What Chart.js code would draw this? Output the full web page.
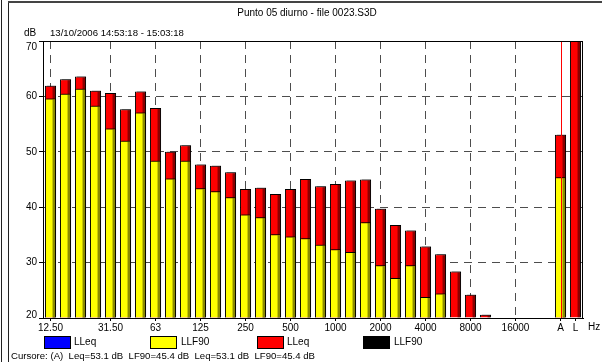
<!DOCTYPE html>
<html>
<head>
<meta charset="utf-8">
<script src="https://cdn.jsdelivr.net/npm/chart.js@4.4.1/dist/chart.umd.min.js"></script>
<style>
  html, body { margin: 0; padding: 0; background: #fff; }
  #wrap { position: relative; width: 602px; height: 362px; overflow: hidden;
          font-family: "Liberation Sans", Arial, sans-serif; font-size: 10px; color: #000; }
  #wrap canvas { position: absolute; left: 0; top: 0; }
  .t { position: absolute; white-space: nowrap; line-height: 12px; }
  .n { font-size: 9.6px; }
  .box { position: absolute; width: 27px; height: 13px; box-sizing: border-box; border: 1px solid #000; }
  .ln { position: absolute; background: #222; }
</style>
</head>
<body>
<div id="wrap">
  <canvas id="c" width="602" height="362"></canvas>

  <div class="ln" style="left:1px; top:0; width:1px; height:362px;"></div>
  <div class="ln" style="left:8px; top:1px; width:1px; height:361px;"></div>
  <div class="ln" style="left:8px; top:1px; width:594px; height:2px; background:#444;"></div>

  <div class="t" style="left:8px; width:598px; text-align:center; top:7px;">Punto 05 diurno - file 0023.S3D</div>
  <div class="t" style="left:24px; top:27px;">dB</div>
  <div class="t n" style="left:50px; top:27px;">13/10/2006 14:53:18 - 15:03:18</div>
  <div class="t" style="left:588px; top:321px;">Hz</div>

  <div class="box" style="left:44px; top:336px; background:#0000ff;"></div>
  <div class="t" style="left:74px; top:336px;">LLeq</div>
  <div class="box" style="left:150px; top:336px; background:#ffff00;"></div>
  <div class="t" style="left:181px; top:336px;">LLF90</div>
  <div class="box" style="left:257px; top:336px; background:#ff0000;"></div>
  <div class="t" style="left:287px; top:336px;">LLeq</div>
  <div class="box" style="left:363px; top:336px; background:#000000;"></div>
  <div class="t" style="left:394px; top:336px;">LLF90</div>

  <div class="t n" style="left:11px; top:350px;">Cursore: (A)&nbsp; Leq=53.1 dB&nbsp; LF90=45.4 dB&nbsp; Leq=53.1 dB&nbsp; LF90=45.4 dB</div>
</div>

<script>
// One-third octave bands, then a spacer slot and the overall A / L levels
const bands = ['12.50', '16', '20', '25', '31.50', '40', '50', '63', '80', '100',
  '125', '160', '200', '250', '315', '400', '500', '630', '800', '1000',
  '1250', '1600', '2000', '2500', '3150', '4000', '5000', '6300', '8000', '10000',
  '12500', '16000', '20000', '', 'A', 'L'];

// Bands that carry a label on the frequency axis
const labelledBands = ['12.50', '31.50', '63', '125', '250', '500', '1000',
  '2000', '4000', '8000', '16000', 'A', 'L'];

// Bands with a vertical grid line (octaves)
const gridBands = ['12.50', '31.50', '63', '125', '250', '500', '1000',
  '2000', '4000', '8000', '16000'];

// Leq per band (dB)
const leq = [61.9, 63.1, 63.6, 61.0, 60.6, 57.7, 60.9, 57.9, 50.0, 51.2,
  47.7, 47.5, 46.3, 43.3, 43.5, 42.4, 43.3, 45.1, 43.8, 44.2,
  44.8, 45.0, 39.7, 36.8, 35.8, 32.9, 31.5, 28.4, 24.2, 20.6,
  null, null, null, null, 53.1, 74.0];

// LF90 per band (dB)
const lf90 = [59.6, 60.5, 61.4, 58.3, 54.2, 52.0, 57.1, 48.4, 45.2, 48.4,
  43.4, 42.9, 41.8, 38.7, 38.2, 35.1, 34.7, 34.4, 33.2, 32.4,
  31.9, 37.3, 29.5, 27.2, 29.5, 23.8, 24.4, null, null, null,
  null, null, null, null, 45.4, null];

// Level axis
const yTicks = [20, 30, 40, 50, 60, 70];
const cursorBand = 'A';

const FONT = '10px "Liberation Sans", Arial, sans-serif';

// Bar shading: a drop shadow, plus a darker right-hand face on every bar
const barShade = {
  id: 'barShade',
  beforeDatasetDraw(chart) {
    const ctx = chart.ctx;
    ctx.save();
    ctx.shadowColor = 'rgba(0,0,0,0.45)';
    ctx.shadowOffsetX = 2;
    ctx.shadowOffsetY = -1;
    ctx.shadowBlur = 0;
  },
  afterDatasetDraw(chart, args) {
    const ctx = chart.ctx;
    ctx.restore();
    const a = chart.chartArea;
    ctx.save();
    ctx.beginPath();
    ctx.rect(a.left, a.top, a.right - a.left, a.bottom - a.top);
    ctx.clip();
    ctx.fillStyle = 'rgba(0,0,0,0.45)';
    args.meta.data.forEach(el => {
      const p = el.getProps(['x', 'y', 'base', 'width'], true);
      if (!isFinite(p.y) || !isFinite(p.base)) return;
      const right = p.x + p.width / 2 - 1;
      const top = Math.min(p.y, p.base) + 1;
      ctx.fillRect(right - 2.5, top, 2.5, Math.abs(p.base - p.y) - 1);
    });
    ctx.restore();
  }
};

// Plot frame, cursor line and level labels
const overlay = {
  id: 'overlay',
  afterDatasetsDraw(chart) {
    const ctx = chart.ctx;
    const a = chart.chartArea;
    const xs = chart.scales.x;
    const cx = Math.round(xs.getPixelForValue(bands.indexOf(cursorBand))) + 0.5;
    ctx.save();
    ctx.strokeStyle = '#ff0000';
    ctx.lineWidth = 1;
    ctx.beginPath();
    ctx.moveTo(cx, a.top);
    ctx.lineTo(cx, a.bottom);
    ctx.stroke();
    ctx.strokeStyle = '#000';
    ctx.strokeRect(Math.round(a.left) + 0.5, Math.round(a.top) + 0.5,
      Math.round(a.right - a.left) - 1, Math.round(a.bottom - a.top));
    ctx.restore();
  },
  afterDraw(chart) {
    const ctx = chart.ctx;
    const a = chart.chartArea;
    const ys = chart.scales.y;
    ctx.save();
    ctx.font = FONT;
    ctx.fillStyle = '#000';
    ctx.textAlign = 'right';
    ctx.textBaseline = 'middle';
    yTicks.forEach(v => {
      let py = ys.getPixelForValue(v);
      py = Math.min(Math.max(py, a.top + 6), a.bottom - 3);
      ctx.fillText(String(v), 37, py);
    });
    ctx.restore();
  }
};

const isLabelled = i => labelledBands.includes(bands[i]);
const isGrid = i => gridBands.includes(bands[i]);

new Chart(document.getElementById('c'), {
  type: 'bar',
  data: {
    labels: bands,
    datasets: [
      {
        label: 'LLF90',
        data: lf90,
        backgroundColor: '#ffff00',
        borderColor: '#000',
        borderWidth: 1,
        grouped: false,
        order: 0,
        base: 20,
        clip: { left: 0, top: 0, right: 4, bottom: 0 }
      },
      {
        label: 'LLeq',
        data: leq,
        backgroundColor: '#ff0000',
        borderColor: '#000',
        borderWidth: 1,
        grouped: false,
        order: 1,
        base: 20,
        clip: { left: 0, top: 0, right: 4, bottom: 0 }
      }
    ]
  },
  options: {
    responsive: false,
    animation: false,
    devicePixelRatio: 1,
    barPercentage: 0.74,
    categoryPercentage: 1.0,
    layout: { padding: { left: 0, top: 41, right: 19, bottom: 0 } },
    plugins: { legend: { display: false }, tooltip: { enabled: false }, title: { display: false } },
    scales: {
      x: {
        afterFit(scale) { scale.height = 44; },
        grid: {
          offset: false,
          drawOnChartArea: true,
          lineWidth: 1,
          color: c => isGrid(c.index) ? '#4d4d4d' : 'rgba(0,0,0,0)',
          tickColor: c => isLabelled(c.index) ? '#000' : 'rgba(0,0,0,0)',
          tickLength: 3,
          tickBorderDash: []
        },
        border: { display: true, color: '#000', width: 1, dash: [8, 6] },
        ticks: {
          autoSkip: false,
          maxRotation: 0,
          minRotation: 0,
          padding: 1,
          color: '#000',
          font: { family: '"Liberation Sans", Arial, sans-serif', size: 10 },
          callback(value, index) { return isLabelled(index) ? bands[index] : ''; }
        }
      },
      y: {
        min: 20,
        max: 70,
        afterFit(scale) { scale.width = 43; },
        afterBuildTicks(scale) { scale.ticks = yTicks.map(v => ({ value: v })); },
        grid: {
          lineWidth: 1,
          color: c => (c.tick && (c.tick.value === 20 || c.tick.value === 70)) ? 'rgba(0,0,0,0)' : '#4d4d4d',
          tickColor: '#000',
          tickLength: 4,
          tickBorderDash: []
        },
        border: { display: true, color: '#000', width: 1, dash: [8, 6] },
        ticks: { display: false }
      }
    }
  },
  plugins: [barShade, overlay]
});
</script>
</body>
</html>
